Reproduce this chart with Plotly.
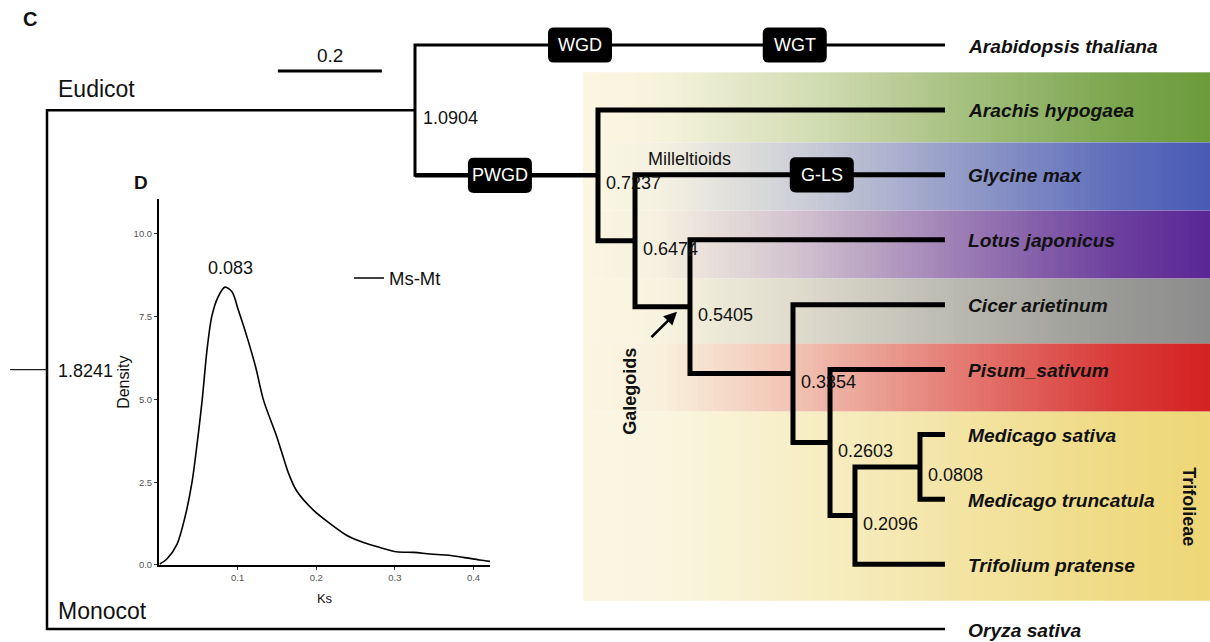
import numpy as np
import plotly.graph_objects as go

# ---------------- data ----------------
taxa = ["Arabidopsis thaliana", "Arachis hypogaea", "Glycine max", "Lotus japonicus",
        "Cicer arietinum", "Pisum_sativum", "Medicago sativa", "Medicago truncatula",
        "Trifolium pratense", "Oryza sativa"]

edge_parent = ["root", "root", "eudicot", "eudicot", "legume", "legume", "mil", "mil",
               "gal", "gal", "n4", "n4", "n5", "n5", "n6", "n6", "n7", "n7"]
edge_child = ["eudicot", "Oryza sativa", "Arabidopsis thaliana", "legume", "Arachis hypogaea",
              "mil", "Glycine max", "gal", "Lotus japonicus", "n4", "Cicer arietinum", "n5",
              "Pisum_sativum", "n6", "Trifolium pratense", "n7", "Medicago sativa",
              "Medicago truncatula"]
edge_length = [0.7077, 1.7269, 1.0192, 0.3519, 0.6673, 0.0712, 0.5961, 0.1057, 0.4904,
               0.1981, 0.2923, 0.0712, 0.2211, 0.0480, 0.1731, 0.1250, 0.0481, 0.0481]
root_edge = 0.071

label_nodes = ["root", "eudicot", "legume", "mil", "gal", "n4", "n5", "n6", "n7"]
label_values = ["1.8241", "1.0904", "0.7237", "0.6474", "0.5405", "0.3354", "0.2603",
                "0.2096", "0.0808"]

event_names = ["WGD", "WGT", "PWGD", "G-LS"]
event_branch = ["Arabidopsis thaliana", "Arabidopsis thaliana", "legume", "Glycine max"]
event_depth = [1.025, 1.438, 0.871, 1.490]

clade_names = ["Arachis", "Glycine", "Lotus", "Cicer", "Pisum", "Trifolieae"]
clade_colors = ["#6b9b3b", "#4a5bb6", "#5a2795", "#8c8c8c", "#d42222", "#eed777"]
clade_edges = [0.42, 1.5, 2.55, 3.6, 4.6, 5.65, 8.56]
hilight_start = 1.0308

scale_len = 0.2
scale_start = 0.444

ks = [0.001, 0.010, 0.023, 0.033, 0.042, 0.050, 0.055, 0.061, 0.067, 0.075, 0.084, 0.093,
      0.101, 0.112, 0.123, 0.133, 0.150, 0.165, 0.175, 0.197, 0.218, 0.239, 0.260, 0.281,
      0.302, 0.324, 0.345, 0.366, 0.387, 0.408, 0.421]
density = [0.03, 0.18, 0.63, 1.44, 2.50, 3.96, 5.00, 6.48, 7.49, 8.09, 8.39, 8.24, 7.69,
           6.88, 5.97, 4.97, 3.86, 2.75, 2.24, 1.64, 1.24, 0.89, 0.68, 0.53, 0.40, 0.38,
           0.33, 0.30, 0.23, 0.15, 0.11]
peak_label = "0.083"

# ---------------- layout constants ----------------
W, H = 1210, 642
YS = 1.0096            # vertical compensation
PX_X = 520.0           # pixels per branch-length unit
ROOT_PX = 47.0
PX_Y = 64.78 * YS      # pixels per leaf
TOP_PX = 45.0 * YS
xr = [-ROOT_PX / PX_X, (W - ROOT_PX) / PX_X]
yr = [(H - TOP_PX) / PX_Y, -TOP_PX / PX_Y]
FONT = "Liberation Sans, Arial, Helvetica, sans-serif"


def py(px):
    """paper y for a pixel row measured from the top"""
    return 1 - px * YS / H


# ---------------- tree layout ----------------
children = {}
blen = {}
for p, c, l in zip(edge_parent, edge_child, edge_length):
    children.setdefault(p, []).append(c)
    blen[c] = l
depth = {"root": 0.0}
order = ["root"]
i = 0
while i < len(order):
    n = order[i]
    for c in children.get(n, []):
        depth[c] = depth[n] + blen[c]
        order.append(c)
    i += 1
ypos = {t: k for k, t in enumerate(taxa)}
for n in reversed(order):
    if n in children:
        ys = [ypos[c] for c in children[n]]
        ypos[n] = (min(ys) + max(ys)) / 2.0

legume_clade = set()
stack = ["legume"]
while stack:
    n = stack.pop()
    legume_clade.add(n)
    stack.extend(children.get(n, []))

fig = go.Figure()

# ---------- clade highlight gradients ----------
def hex2rgb(h):
    h = h.lstrip("#")
    return np.array([int(h[k:k + 2], 16) for k in (0, 2, 4)], float)

cream = hex2rgb("#faf6e2")
N = 120
xe = np.linspace(hilight_start, xr[1], N + 1)
for k, col in enumerate(clade_colors):
    c = hex2rgb(col)
    def mix(t):
        v = cream + (c - cream) * t
        return "rgb(%d,%d,%d)" % tuple(v.round())
    cs = [[0, mix(0)], [0.12, mix(0.03)], [0.35, mix(0.26)], [0.6, mix(0.58)], [0.85, mix(0.88)], [1, mix(1)]]
    fig.add_trace(go.Heatmap(x=xe, y=[clade_edges[k], clade_edges[k + 1]],
                             z=[np.linspace(0, 1, N)], zmin=0, zmax=1, colorscale=cs,
                             showscale=False, hoverinfo="skip", xaxis="x", yaxis="y"))

# ---------- tree branches ----------
for n in order:
    if n not in children:
        continue
    ch = sorted(children[n], key=lambda c: ypos[c])
    c1, c2 = ch[0], ch[-1]
    xs = [depth[c1], depth[n], depth[n], depth[c2]]
    ys = [ypos[c1], ypos[c1], ypos[c2], ypos[c2]]
    if n in legume_clade:
        w = 5
    elif n == "eudicot":
        w = 3
    else:
        w = 2.5
    fig.add_trace(go.Scatter(x=xs, y=ys, mode="lines", line=dict(color="black", width=w),
                             showlegend=False, hoverinfo="skip", xaxis="x", yaxis="y"))
# thick stem to legumes
fig.add_trace(go.Scatter(x=[depth["eudicot"], depth["legume"]], y=[ypos["legume"]] * 2,
                         mode="lines", line=dict(color="black", width=4.5),
                         showlegend=False, hoverinfo="skip"))
# root edge
fig.add_trace(go.Scatter(x=[-root_edge, 0], y=[ypos["root"]] * 2, mode="lines",
                         line=dict(color="#222", width=1.2), showlegend=False, hoverinfo="skip"))
# scale bar
fig.add_trace(go.Scatter(x=[scale_start, scale_start + scale_len], y=[0.40, 0.40], mode="lines",
                         line=dict(color="black", width=3), showlegend=False, hoverinfo="skip"))

ann = []
ann.append(dict(x=scale_start + scale_len / 2, y=0.40, text=str(scale_len), showarrow=False,
                yshift=16, font=dict(size=19, color="#111")))

# taxon labels
for t in taxa:
    ann.append(dict(x=depth[t], y=ypos[t], text="<b><i>%s</i></b>" % t, showarrow=False,
                    xanchor="left", xshift=21, yshift=-1, font=dict(size=19.2, color="#111")))
# node labels
for n, v in zip(label_nodes, label_values):
    if n == "root":
        ann.append(dict(x=depth[n], y=ypos[n], text=v, showarrow=False, xanchor="left",
                        xshift=9, yshift=-1, font=dict(size=18, color="#111")))
    else:
        ann.append(dict(x=depth[n], y=ypos[n], text=v, showarrow=False, xanchor="left",
                        xshift=6, yshift=-8, font=dict(size=18, color="#111")))

# event boxes
shapes = []
bw, bh, rad = 64 / PX_X, 35 * YS / PX_Y, 6
rx, ry = rad / PX_X, rad / PX_Y
for name, br, d in zip(event_names, event_branch, event_depth):
    yc = ypos[br]
    x0, x1 = d - bw / 2, d + bw / 2
    y0, y1 = yc - bh / 2, yc + bh / 2
    path = (f"M {x0+rx},{y0} L {x1-rx},{y0} Q {x1},{y0} {x1},{y0+ry} L {x1},{y1-ry} "
            f"Q {x1},{y1} {x1-rx},{y1} L {x0+rx},{y1} Q {x0},{y1} {x0},{y1-ry} "
            f"L {x0},{y0+ry} Q {x0},{y0} {x0+rx},{y0} Z")
    shapes.append(dict(type="path", path=path, xref="x", yref="y", fillcolor="black",
                       line=dict(width=0), layer="above"))
    ann.append(dict(x=d, y=yc, text=name, showarrow=False, font=dict(size=18, color="white")))

# clade / group labels
ann.append(dict(x=0, y=ypos["eudicot"], text="Eudicot", showarrow=False, xanchor="left",
                xshift=9, yshift=21, font=dict(size=23, color="#111")))
ann.append(dict(x=0, y=ypos["Oryza sativa"], text="Monocot", showarrow=False, xanchor="left",
                xshift=9, yshift=18, font=dict(size=23, color="#111")))
ann.append(dict(x=depth["mil"], y=ypos["Glycine max"], text="Milleltioids", showarrow=False,
                xanchor="left", xshift=11, yshift=16, font=dict(size=18, color="#111")))
ann.append(dict(x=depth["gal"], y=ypos["gal"], text="<b>Galegoids</b>", showarrow=False,
                textangle=-90, xanchor="center", yanchor="middle", xshift=-60, yshift=-84,
                font=dict(size=18, color="#111")))
ann.append(dict(x=depth["gal"], y=ypos["gal"], text="", showarrow=True, xshift=-13, yshift=-5,
                ax=-27, ay=27, arrowhead=2, arrowsize=1, arrowwidth=2.6, arrowcolor="black",
                standoff=0))
ann.append(dict(x=1189 / W, xref="paper", y=ypos["Medicago truncatula"], yref="y",
                text="<b>Trifolieae</b>", showarrow=False, textangle=90, xanchor="center",
                yanchor="middle", yshift=-7, font=dict(size=18, color="#111")))
ann.append(dict(x=30 / W, y=py(19), xref="paper", yref="paper", text="<b>C</b>",
                xanchor="center", yanchor="middle", showarrow=False,
                font=dict(size=20, color="#111")))
ann.append(dict(x=141 / W, y=py(182), xref="paper", yref="paper", text="<b>D</b>",
                xanchor="center", yanchor="middle", showarrow=False,
                font=dict(size=19, color="#111")))

# ---------- inset density ----------
fig.add_trace(go.Scatter(x=ks, y=density, mode="lines", name="Ms-Mt",
                         line=dict(color="black", width=1.6, shape="spline", smoothing=0.8),
                         xaxis="x2", yaxis="y2", showlegend=True, hoverinfo="skip"))
ip = int(np.argmax(density))
ann.append(dict(x=ks[ip], y=density[ip], xref="x2", yref="y2", text=peak_label,
                showarrow=False, yshift=19, xshift=5, font=dict(size=18, color="#111")))

fig.update_layout(
    width=W, height=H, margin=dict(l=0, r=0, t=0, b=0),
    paper_bgcolor="white", plot_bgcolor="rgba(0,0,0,0)",
    font=dict(family=FONT, color="#111"),
    xaxis=dict(range=xr, visible=False, domain=[0, 1], fixedrange=True),
    yaxis=dict(range=yr, visible=False, domain=[0, 1], fixedrange=True),
    xaxis2=dict(domain=[159 / W, 490 / W], anchor="y2", range=[0, 0.421],
                showline=True, linecolor="black", linewidth=2, showgrid=False, zeroline=False,
                ticks="outside", ticklen=3, tickcolor="#333", tickvals=[0.1, 0.2, 0.3, 0.4],
                ticktext=["0.1", "0.2", "0.3", "0.4"],
                tickfont=dict(size=9.5, color="#555"),
                title=dict(text="Ks", font=dict(size=13, color="#111"), standoff=12)),
    yaxis2=dict(domain=[py(564), py(199)], anchor="x2", range=[0, 11.04],
                showline=True, linecolor="black", linewidth=2, showgrid=False, zeroline=False,
                ticks="outside", ticklen=3, tickcolor="#333", tickvals=[0, 2.5, 5, 7.5, 10],
                ticktext=["0.0", "2.5", "5.0", "7.5", "10.0"],
                tickfont=dict(size=9.5, color="#555"),
                title=dict(text="Density", font=dict(size=16, color="#111"), standoff=0)),
    legend=dict(x=349 / W, y=py(259), xanchor="left", yanchor="top",
                bgcolor="rgba(0,0,0,0)", font=dict(size=18.5, color="#111"), itemwidth=30),
    annotations=ann, shapes=shapes,
)

fig.write_html("out.html", config={"displayModeBar": False},
               post_script="document.body.style.margin='0px';")
